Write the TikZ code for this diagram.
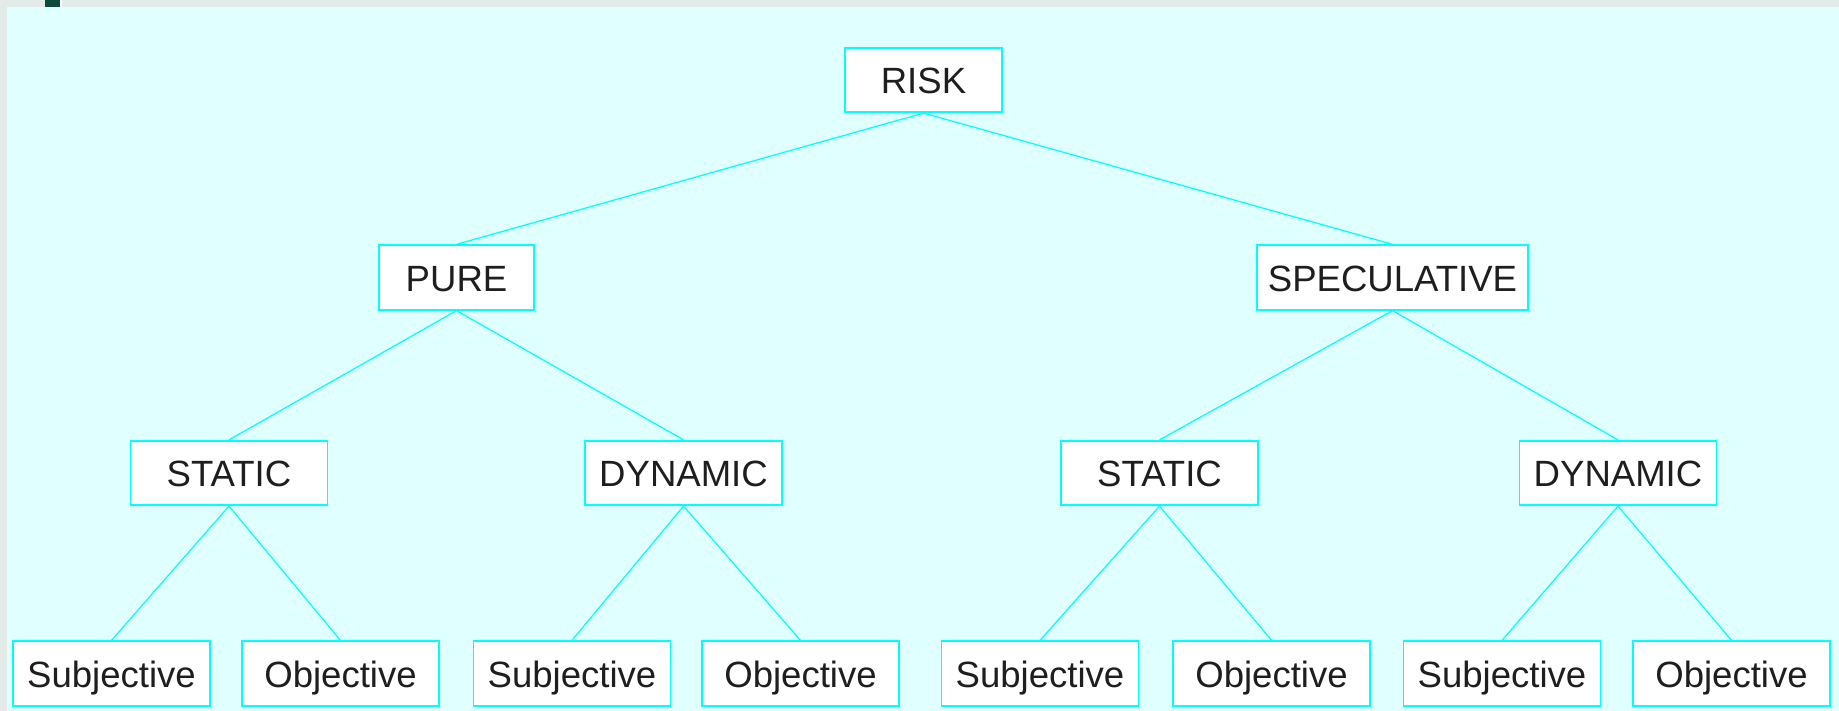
\documentclass[tikz,border=0pt]{standalone}
\usepackage{fontspec}
\setmainfont{Liberation Sans}
\usepackage{tikz}

\definecolor{slidebg}{HTML}{E2EBE8}
\definecolor{panelbg}{HTML}{E0FFFF}
\definecolor{edgecyan}{HTML}{00FFFF}
\definecolor{markgreen}{HTML}{0B4A3A}
\definecolor{textdark}{HTML}{1E1E1E}

\tikzset{
    riskbox/.style={rectangle, draw=edgecyan, fill=white, line width=0.5pt,
        minimum width=1.97cm, minimum height=0.645cm, inner sep=0pt,
        text height=0.30cm, text depth=0.02cm,
        text=textdark, font=\fontsize{10.4}{12}\selectfont},
    link/.style={draw=edgecyan, line width=0.35pt}
}

\begin{document}
\begin{tikzpicture}
            % Background
            \useasboundingbox (0,0) rectangle (18.39,7.11);
            \fill[slidebg] (0,0) rectangle (18.39,7.11);
            \fill[panelbg] (0.07,0) rectangle (18.39,7.04);
            \fill[markgreen] (0.45,7.04) rectangle (0.60,7.11);
            \fill[white] (0.60,7.04) rectangle (0.62,7.11);

            % Nodes
            \node[riskbox, minimum width=1.57cm] (risk) at (9.235, 6.31) {RISK};
            \node[riskbox, minimum width=1.55cm] (pure) at (4.565, 4.335) {PURE};
            \node[riskbox, minimum width=2.71cm] (spec) at (13.925, 4.335) {SPECULATIVE};

            \node[riskbox] (pstat) at (2.29, 2.38) {STATIC};
            \node[riskbox] (pdyn) at (6.835, 2.38) {DYNAMIC};
            \node[riskbox] (sstat) at (11.595, 2.38) {STATIC};
            \node[riskbox] (sdyn) at (16.18, 2.38) {DYNAMIC};

            \node[riskbox] (pstatsub) at (1.115, 0.375) {Subjective};
            \node[riskbox] (pstatobj) at (3.405, 0.375) {Objective};
            \node[riskbox] (pdynsub) at (5.72, 0.375) {Subjective};
            \node[riskbox] (pdynobj) at (8.005, 0.375) {Objective};
            \node[riskbox] (sstatsub) at (10.40, 0.375) {Subjective};
            \node[riskbox] (sstatobj) at (12.715, 0.375) {Objective};
            \node[riskbox] (sdynsub) at (15.02, 0.375) {Subjective};
            \node[riskbox] (sdynobj) at (17.315, 0.375) {Objective};

            % Edges
            \draw[link] (risk.south) -- (pure.north);
            \draw[link] (risk.south) -- (spec.north);

            \draw[link] (pure.south) -- (pstat.north);
            \draw[link] (pure.south) -- (pdyn.north);
            \draw[link] (spec.south) -- (sstat.north);
            \draw[link] (spec.south) -- (sdyn.north);

            \draw[link] (pstat.south) -- (pstatsub.north);
            \draw[link] (pstat.south) -- (pstatobj.north);
            \draw[link] (pdyn.south) -- (pdynsub.north);
            \draw[link] (pdyn.south) -- (pdynobj.north);
            \draw[link] (sstat.south) -- (sstatsub.north);
            \draw[link] (sstat.south) -- (sstatobj.north);
            \draw[link] (sdyn.south) -- (sdynsub.north);
            \draw[link] (sdyn.south) -- (sdynobj.north);
        \end{tikzpicture}
\end{document}
